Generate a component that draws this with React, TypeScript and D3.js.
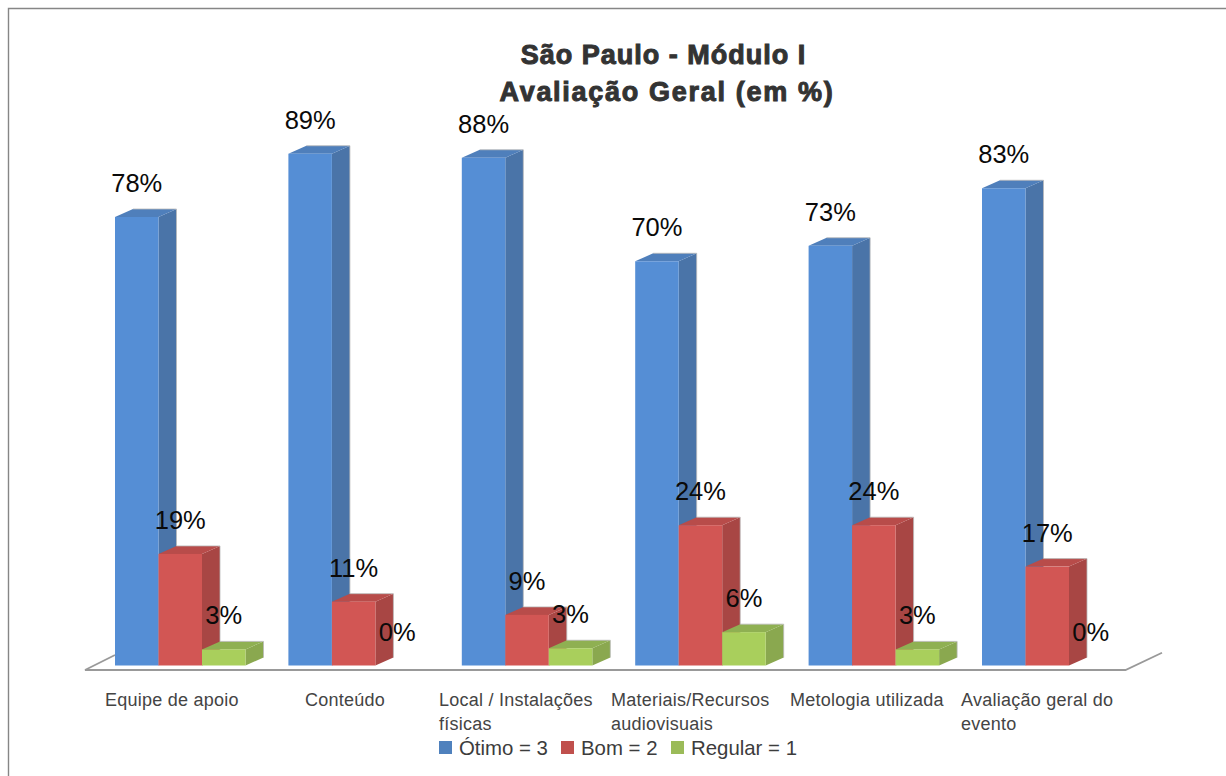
import React from "react";
import * as d3 from "d3";

const categories = ["Equipe de apoio", "Conteúdo", "Local / Instalações físicas", "Materiais/Recursos audiovisuais", "Metologia utilizada", "Avaliação geral do evento"];
const categoryLines = [["Equipe de apoio"], ["Conteúdo"], ["Local / Instalações", "físicas"], ["Materiais/Recursos", "audiovisuais"], ["Metologia utilizada"], ["Avaliação geral do", "evento"]];
const categoryLabelX = [105, 305, 439, 611, 790, 961];
const seriesNames = ["Ótimo = 3", "Bom = 2", "Regular = 1"];
const otimo = [78, 89, 88.3, 70.3, 73, 83];
const bom = [19.4, 11.1, 8.8, 24.4, 24.4, 17.2];
const regular = [2.8, 0, 3, 5.8, 2.8, 0];
const labelsOtimo = ["78%", "89%", "88%", "70%", "73%", "83%"];
const labelsBom = ["19%", "11%", "9%", "24%", "24%", "17%"];
const labelsRegular = ["3%", "0%", "3%", "6%", "3%", "0%"];

const seriesValues = [otimo, bom, regular];
const seriesLabels = [labelsOtimo, labelsBom, labelsRegular];
const front = ["#558ed5", "#d25654", "#a9cf5c"];
const side = ["#4a74a8", "#a84644", "#8aa84f"];
const top = ["#4f7fbb", "#b84c4a", "#8fb052"];
const legendColors = ["#4f81bd", "#c0504d", "#9bbb59"];
const legendSquareX = [439, 561, 671];

const FONT = "'Liberation Sans', Arial, sans-serif";
const DX = 18;
const DY = 8;
const BASE = 665.5;

export default function App() {
  const y = d3.scaleLinear().domain([0, 100]).range([BASE, BASE - 575]);
  const x0 = d3.scaleBand<string>().domain(categories)
    .range([115, 115 + 5 * 173.4 + 130.5]).paddingInner(0.2474).paddingOuter(0);
  const x1 = d3.scaleBand<string>().domain(seriesNames).range([0, x0.bandwidth()]);
  const w = x1.bandwidth();
  const poly = (pts: [number, number][]) => {
    const p = d3.path();
    pts.forEach(([a, b], i) => (i ? p.lineTo(a, b) : p.moveTo(a, b)));
    p.closePath();
    return p.toString();
  };
  return (
    <svg width={1226} height={776} style={{ position: "absolute", left: 0, top: 0, background: "#fff", fontFamily: FONT }}>
      <path d="M8.5,776V8.5H1226" fill="none" stroke="#868686" strokeWidth={1.4} />
      <path d="M115,655L85,670H1125.5L1162,652.7" fill="none" stroke="#999" strokeWidth={1.8} />
      <g fontWeight="bold" fill="#333" textAnchor="middle" stroke="#333" strokeWidth={1}>
        <text x={663.5} y={64} fontSize={27} letterSpacing={1}>São Paulo - Módulo I</text>
        <text x={667} y={101} fontSize={27} letterSpacing={1.7}>Avaliação Geral (em %)</text>
      </g>
      {categories.map((c, i) => (
        <g key={c}>
          {seriesNames.map((s, k) => {
            const v = seriesValues[k][i];
            if (v === 0) return null;
            const xl = x0(c)! + x1(s)!;
            const xr = xl + w;
            const yt = y(v);
            return (
              <g key={s}>
                <path d={poly([[xr, yt], [xr + DX, yt - DY], [xr + DX, BASE - DY], [xr, BASE]])} fill={side[k]} />
                <path d={poly([[xl, yt], [xl + DX, yt - DY], [xr + DX, yt - DY], [xr, yt]])} fill={top[k]} />
                <path d={`M${xl + DX},${yt - DY}H${xr + DX}V${BASE - DY}`} fill="none" stroke="#b9b9b9" strokeWidth={0.8} />
                <rect x={xl} y={yt} width={w} height={BASE - yt} fill={front[k]} />
              </g>
            );
          })}
        </g>
      ))}
      {categories.map((c, i) => (
        <g key={c} fontSize={25.5} fill="#0a0a0a" textAnchor="middle">
          {seriesNames.map((s, k) => (
            <text key={s} x={x0(c)! + x1(s)! + w / 2} y={y(seriesValues[k][i]) - 25}>
              {seriesLabels[k][i]}
            </text>
          ))}
        </g>
      ))}
      <g fontSize={18} fill="#444" letterSpacing={0.25}>
        {categoryLines.map((lines, i) => (
          <text key={i} x={categoryLabelX[i]} y={706}>
            {lines.map((l, j) => (
              <tspan key={j} x={categoryLabelX[i]} y={706 + j * 24}>{l}</tspan>
            ))}
          </text>
        ))}
      </g>
      <g fontSize={20.4} fill="#3c3c3c">
        {seriesNames.map((s, k) => (
          <g key={s}>
            <rect x={legendSquareX[k]} y={741} width={13} height={13} fill={legendColors[k]} />
            <text x={legendSquareX[k] + 20} y={755}>{s}</text>
          </g>
        ))}
      </g>
    </svg>
  );
}
